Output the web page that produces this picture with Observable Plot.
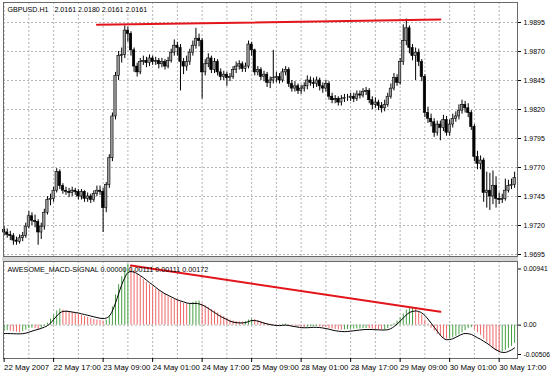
<!DOCTYPE html>
<html><head><meta charset="utf-8">
<script src="https://cdn.jsdelivr.net/npm/d3@7"></script>
<script src="https://cdn.jsdelivr.net/npm/@observablehq/plot@0.6"></script>
<style>
body{margin:0;background:#fff;}
#wrap{position:relative;width:550px;height:374px;overflow:hidden;}
#topc,#botc{position:absolute;left:0;}
#topc{top:0}
#botc{top:259px}
#split{position:absolute;left:2px;width:516px;top:256.5px;height:4px;background:#d6d6d6;}
</style></head><body><div id="wrap"><div id="topc"></div><div id="split"></div><div id="botc"></div></div>
<script>
const firstOpen = 1.9716;
const closes = [
1.9714,1.9712,1.9711,1.9707,1.9706,1.9709,1.9711,1.9719,1.9728,1.9724,
1.9723,1.9714,1.9719,1.9731,1.9742,1.9743,1.9750,1.9766,1.9754,1.9750,
1.9749,1.9748,1.9750,1.9749,1.9745,1.9749,1.9743,1.9745,1.9742,1.9747,
1.9750,1.9749,1.9735,1.9755,1.9778,1.9814,1.9849,1.9866,1.9867,1.9888,
1.9885,1.9871,1.9857,1.9852,1.9861,1.9862,1.9860,1.9864,1.9861,1.9862,
1.9859,1.9861,1.9857,1.9862,1.9869,1.9875,1.9873,1.9861,1.9857,1.9861,
1.9869,1.9875,1.9881,1.9879,1.9852,1.9859,1.9864,1.9854,1.9861,1.9852,
1.9848,1.9850,1.9847,1.9848,1.9854,1.9857,1.9859,1.9855,1.9857,1.9876,
1.9871,1.9852,1.9854,1.9848,1.9850,1.9843,1.9845,1.9847,1.9848,1.9845,
1.9852,1.9854,1.9842,1.9838,1.9840,1.9836,1.9838,1.9840,1.9845,1.9843,
1.9842,1.9845,1.9840,1.9838,1.9842,1.9831,1.9828,1.9829,1.9826,1.9829,
1.9830,1.9830,1.9831,1.9829,1.9833,1.9832,1.9835,1.9836,1.9828,1.9824,
1.9826,1.9823,1.9821,1.9824,1.9831,1.9838,1.9847,1.9843,1.9861,1.9879,
1.9890,1.9873,1.9866,1.9869,1.9861,1.9848,1.9817,1.9812,1.9809,1.9800,
1.9807,1.9804,1.9811,1.9800,1.9807,1.9812,1.9814,1.9819,1.9824,1.9821,
1.9817,1.9805,1.9779,1.9773,1.9776,1.9748,1.9750,1.9745,1.9754,1.9743,
1.9742,1.9743,1.9750,1.9754,1.9755,1.9761];
const highs = [
1.9719,1.9717,1.9715,1.9713,1.9710,1.9712,1.9714,1.9722,1.9732,1.9731,
1.9729,1.9725,1.9722,1.9734,1.9745,1.9747,1.9753,1.9769,1.9768,1.9756,
1.9753,1.9752,1.9753,1.9752,1.9751,1.9751,1.9750,1.9748,1.9747,1.9750,
1.9754,1.9754,1.9752,1.9757,1.9781,1.9817,1.9852,1.9870,1.9873,1.9892,
1.9891,1.9887,1.9873,1.9860,1.9864,1.9866,1.9865,1.9867,1.9866,1.9865,
1.9864,1.9864,1.9863,1.9865,1.9872,1.9880,1.9878,1.9876,1.9864,1.9866,
1.9872,1.9879,1.9890,1.9885,1.9881,1.9863,1.9868,1.9866,1.9864,1.9863,
1.9855,1.9853,1.9852,1.9851,1.9857,1.9861,1.9862,1.9861,1.9860,1.9879,
1.9878,1.9872,1.9857,1.9856,1.9853,1.9852,1.9848,1.9871,1.9852,1.9851,
1.9855,1.9857,1.9856,1.9845,1.9844,1.9842,1.9841,1.9843,1.9849,1.9848,
1.9847,1.9848,1.9847,1.9843,1.9845,1.9844,1.9834,1.9832,1.9831,1.9832,
1.9833,1.9833,1.9834,1.9834,1.9836,1.9836,1.9838,1.9839,1.9838,1.9831,
1.9830,1.9828,1.9826,1.9828,1.9834,1.9842,1.9851,1.9850,1.9864,1.9893,
1.9898,1.9892,1.9876,1.9873,1.9872,1.9863,1.9850,1.9822,1.9816,1.9812,
1.9810,1.9810,1.9815,1.9814,1.9811,1.9816,1.9818,1.9824,1.9828,1.9827,
1.9825,1.9819,1.9807,1.9784,1.9780,1.9778,1.9766,1.9765,1.9767,1.9762,
1.9748,1.9747,1.9760,1.9759,1.9760,1.9766];
const lows = [
1.9711,1.9709,1.9707,1.9703,1.9703,1.9704,1.9706,1.9709,1.9717,1.9720,
1.9718,1.9703,1.9708,1.9716,1.9729,1.9737,1.9740,1.9748,1.9751,1.9747,
1.9746,1.9744,1.9745,1.9746,1.9742,1.9742,1.9740,1.9740,1.9739,1.9740,
1.9745,1.9746,1.9714,1.9731,1.9752,1.9775,1.9811,1.9845,1.9860,1.9864,
1.9878,1.9866,1.9852,1.9848,1.9850,1.9858,1.9856,1.9857,1.9858,1.9858,
1.9855,1.9856,1.9854,1.9855,1.9860,1.9866,1.9866,1.9836,1.9850,1.9853,
1.9858,1.9866,1.9872,1.9874,1.9829,1.9849,1.9856,1.9851,1.9851,1.9849,
1.9845,1.9845,1.9840,1.9844,1.9846,1.9851,1.9854,1.9852,1.9852,1.9855,
1.9866,1.9849,1.9849,1.9845,1.9844,1.9839,1.9838,1.9842,1.9843,1.9842,
1.9843,1.9849,1.9839,1.9835,1.9835,1.9833,1.9833,1.9835,1.9837,1.9840,
1.9838,1.9839,1.9836,1.9834,1.9835,1.9828,1.9825,1.9825,1.9823,1.9823,
1.9826,1.9827,1.9827,1.9826,1.9827,1.9829,1.9830,1.9832,1.9825,1.9820,
1.9821,1.9819,1.9817,1.9818,1.9822,1.9829,1.9836,1.9840,1.9841,1.9858,
1.9875,1.9868,1.9862,1.9845,1.9857,1.9844,1.9813,1.9808,1.9805,1.9796,
1.9797,1.9793,1.9801,1.9797,1.9797,1.9804,1.9809,1.9811,1.9816,1.9817,
1.9813,1.9802,1.9775,1.9768,1.9768,1.9740,1.9735,1.9733,1.9738,1.9735,
1.9738,1.9739,1.9741,1.9748,1.9751,1.9752];
const macd = [
-0.00093,-0.00086,-0.00093,-0.00101,-0.00109,-0.00117,-0.00101,-0.00078,-0.00054,-0.00047,
-0.00054,-0.00070,-0.00047,-0.00016,0.00031,0.00093,0.00156,0.00218,0.00249,0.00233,
0.00218,0.00202,0.00194,0.00179,0.00163,0.00148,0.00132,0.00117,0.00101,0.00086,
0.00078,0.00070,0.00062,0.00078,0.00140,0.00280,0.00467,0.00622,0.00746,0.00871,
0.00941,0.00902,0.00840,0.00778,0.00739,0.00700,0.00661,0.00622,0.00591,0.00560,
0.00529,0.00498,0.00467,0.00435,0.00412,0.00397,0.00389,0.00358,0.00334,0.00327,
0.00334,0.00350,0.00365,0.00370,0.00327,0.00295,0.00272,0.00241,0.00218,0.00187,
0.00156,0.00132,0.00101,0.00078,0.00062,0.00054,0.00050,0.00047,0.00054,0.00078,
0.00093,0.00086,0.00070,0.00054,0.00039,0.00023,0.00016,0.00012,0.00009,0.00006,
0.00012,0.00016,0.00008,-0.00008,-0.00016,-0.00028,-0.00034,-0.00039,-0.00034,-0.00028,
-0.00023,-0.00019,-0.00028,-0.00036,-0.00040,-0.00050,-0.00059,-0.00067,-0.00075,-0.00078,
-0.00075,-0.00070,-0.00065,-0.00062,-0.00059,-0.00058,-0.00054,-0.00051,-0.00056,-0.00062,
-0.00067,-0.00073,-0.00078,-0.00075,-0.00054,-0.00023,0.00023,0.00062,0.00109,0.00171,
0.00233,0.00257,0.00272,0.00249,0.00202,0.00156,0.00078,0.00016,-0.00047,-0.00093,
-0.00140,-0.00171,-0.00202,-0.00218,-0.00210,-0.00194,-0.00171,-0.00148,-0.00117,-0.00086,
-0.00054,-0.00039,-0.00070,-0.00117,-0.00156,-0.00218,-0.00264,-0.00311,-0.00358,-0.00397,
-0.00428,-0.00412,-0.00389,-0.00358,-0.00327,-0.00280];
const signal = [
-0.00129,-0.00129,-0.00131,-0.00132,-0.00134,-0.00134,-0.00132,-0.00124,-0.00109,-0.00093,
-0.00078,-0.00065,-0.00050,-0.00031,-0.00008,0.00031,0.00086,0.00140,0.00187,0.00210,
0.00215,0.00210,0.00202,0.00194,0.00187,0.00174,0.00163,0.00152,0.00140,0.00128,
0.00117,0.00106,0.00101,0.00109,0.00140,0.00218,0.00342,0.00482,0.00622,0.00731,
0.00809,0.00824,0.00816,0.00793,0.00762,0.00731,0.00692,0.00653,0.00622,0.00583,
0.00544,0.00513,0.00482,0.00459,0.00435,0.00412,0.00389,0.00373,0.00358,0.00342,
0.00334,0.00334,0.00334,0.00327,0.00311,0.00288,0.00257,0.00225,0.00194,0.00163,
0.00132,0.00109,0.00086,0.00062,0.00047,0.00039,0.00034,0.00034,0.00039,0.00054,
0.00070,0.00070,0.00062,0.00047,0.00031,0.00019,0.00008,0.00000,-0.00005,-0.00008,
-0.00003,0.00000,-0.00005,-0.00016,-0.00023,-0.00031,-0.00039,-0.00040,-0.00040,-0.00037,
-0.00034,-0.00034,-0.00037,-0.00044,-0.00053,-0.00062,-0.00075,-0.00086,-0.00093,-0.00098,
-0.00100,-0.00098,-0.00093,-0.00087,-0.00081,-0.00075,-0.00070,-0.00067,-0.00067,-0.00068,
-0.00070,-0.00073,-0.00075,-0.00075,-0.00070,-0.00054,-0.00023,0.00016,0.00062,0.00109,
0.00156,0.00194,0.00210,0.00218,0.00210,0.00187,0.00148,0.00093,0.00031,-0.00031,
-0.00093,-0.00156,-0.00202,-0.00225,-0.00222,-0.00210,-0.00187,-0.00163,-0.00140,-0.00129,
-0.00132,-0.00143,-0.00168,-0.00194,-0.00218,-0.00249,-0.00277,-0.00311,-0.00350,-0.00381,
-0.00404,-0.00420,-0.00420,-0.00404,-0.00381,-0.00350];
const timeLabels = ["22 May 2007","22 May 17:00","23 May 09:00","24 May 01:00","24 May 17:00","25 May 09:00","28 May 01:00","28 May 17:00","29 May 09:00","30 May 01:00","30 May 17:00"];
const labelBars = [0,16,32,48,64,80,96,112,128,144,160];
const gridBars = [0,8,16,24,32,40,48,56,64,72,80,88,96,104,112,120,128,136,144,152,160];
const priceTicks = [1.9695,1.9720,1.9745,1.9770,1.9795,1.9820,1.9845,1.9870,1.9895];
const macdTop = 0.00941, macdBottom = -0.00506;
const trendPrice = [{i:30,p:1.98930},{i:141,p:1.98975}];
const trendMacd = [{i:41,v:0.00917},{i:141,v:0.00205}];
const titleTop = "GBPUSD.H1\u00a0\u00a0 2.0161 2.0180 2.0161 2.0161";
const titleBot = "AWESOME_MACD-SIGNAL 0.00000 0.00111 0.00111 0.00172";

const bars = closes.map((c,i)=>({i, o: i ? closes[i-1] : firstOpen, h: highs[i], l: lows[i], c}));
const hist = macd.map((v,i)=>({i, v, up: i===0 ? true : v >= macd[i-1]}));
const sig = signal.map((s,i)=>({i, s}));

const font = "'Liberation Sans', Arial, sans-serif";
const xDomain = [-0.2, 165.93];
const grid = {stroke:"#b4b4b4", strokeOpacity:1, strokeDasharray:"2,2"};

const topChart = Plot.plot({
  width: 550, height: 259,
  marginLeft: 3, marginRight: 33, marginTop: 2, marginBottom: 3,
  style: {fontFamily: font, fontSize: "7px", color: "#000", background: "transparent"},
  x: {domain: xDomain, axis: null},
  y: {domain: [1.969328, 1.991224], axis: null},
  marks: [
    Plot.gridY(priceTicks, grid),
    Plot.gridX(gridBars, grid),
    Plot.ruleX(bars, {x: "i", y1: "l", y2: "h", stroke: "#000", strokeWidth: 1}),
    Plot.rect(bars, {x1: d => d.i - 0.38, x2: d => d.i + 0.38, y1: "o", y2: "c",
      fill: d => d.c >= d.o ? "#9c9c9c" : "#000", stroke: "#000", strokeWidth: 0.6}),
    Plot.line(trendPrice, {x: "i", y: "p", stroke: "#e3151b", strokeWidth: 2}),
    Plot.frame({stroke: "#6a6a6a"}),
    Plot.axisY(priceTicks, {anchor: "right", tickSize: 3, tickPadding: 3, fontSize: 7,
      tickFormat: d => d.toFixed(4), label: null}),
    Plot.text([titleTop], {frameAnchor: "top-left", dx: 4, dy: 4, fontSize: 7.1, text: d => d,
      fill: "#000", stroke: "#fff", strokeWidth: 3})
  ]
});
document.getElementById("topc").appendChild(topChart);

const botChart = Plot.plot({
  width: 550, height: 115,
  marginLeft: 3, marginRight: 33, marginTop: 2, marginBottom: 16,
  style: {fontFamily: font, fontSize: "7px", color: "#000", background: "transparent"},
  x: {domain: xDomain, axis: null},
  y: {domain: [-0.005137, 0.009795], axis: null},
  marks: [
    Plot.gridX(gridBars, grid),
    Plot.gridY([0], grid),
    Plot.ruleX(hist, {x: "i", y1: 0, y2: "v", stroke: d => d.up ? "#46a046" : "#ee6868", strokeWidth: 1}),
    Plot.line(sig, {x: "i", y: "s", stroke: "#000", strokeWidth: 1, curve: "monotone-x"}),
    Plot.line(trendMacd, {x: "i", y: "v", stroke: "#e3151b", strokeWidth: 2}),
    Plot.frame({stroke: "#6a6a6a"}),
    Plot.axisY([macdTop], {anchor: "right", tickSize: 3, tickPadding: 3, fontSize: 6.7, dy: 5, tickFormat: d => d.toFixed(5), label: null}),
    Plot.axisY([0], {anchor: "right", tickSize: 3, tickPadding: 3, fontSize: 6.7, tickFormat: () => "0.00", label: null}),
    Plot.axisY([macdBottom], {anchor: "right", tickSize: 3, tickPadding: 3, fontSize: 6.7, dy: -3.5, tickFormat: d => d.toFixed(5), label: null}),
    Plot.axisX(labelBars, {anchor: "bottom", tickSize: 4, tickPadding: 1.5, textAnchor: "start", fontSize: 7.8,
      tickFormat: d => timeLabels[labelBars.indexOf(d)], label: null}),
    Plot.text([titleBot], {frameAnchor: "top-left", dx: 4, dy: 5, fontSize: 7.2, text: d => d, fill: "#000"})
  ]
});
document.getElementById("botc").appendChild(botChart);
</script></body></html>
